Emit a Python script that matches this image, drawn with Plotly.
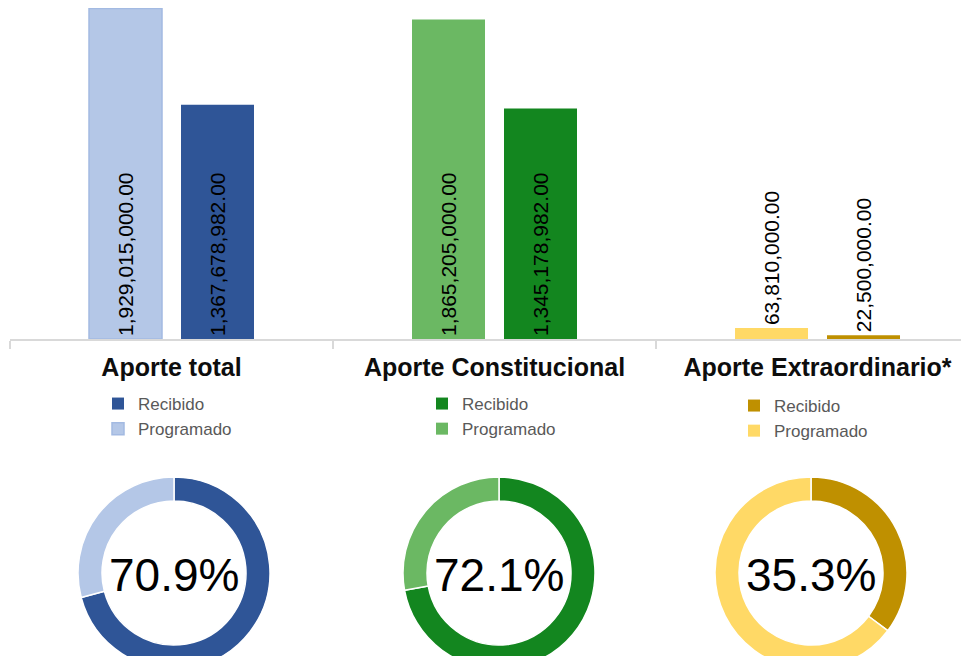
import plotly.graph_objects as go

# ---- data ----
categories = ["Aporte total", "Aporte Constitucional", "Aporte Extraordinario*"]
programado = [1929015000.00, 1865205000.00, 63810000.00]
recibido = [1367678982.00, 1345178982.00, 22500000.00]
series_names = ["Recibido", "Programado"]

# ---- styles ----
prog_colors = ["#B4C7E7", "#6BB863", "#FFD966"]
rec_colors = ["#2F5597", "#13861F", "#BF9000"]
prog_lines = ["#A3BAE2", "#6BB863", "#FFD966"]
FONT = "Liberation Sans, Arial, sans-serif"
W, H = 961, 680          # page body adds an 8px offset
AXIS_Y = 331             # px from figure top

fig = go.Figure()
legend_ids = ["legend", "legend2", "legend3"]

for i, cat in enumerate(categories):
    for name, vals, colors, off in (
        (series_names[1], programado, prog_colors, -0.2554),
        (series_names[0], recibido, rec_colors, 0.0294),
    ):
        fig.add_trace(go.Bar(
            x=[cat], y=[vals[i]], name=name,
            offset=off, width=0.226,
            marker=dict(color=colors[i],
                        line=dict(color=prog_lines[i] if name == "Programado" else colors[i],
                                  width=1.5 if (name == "Programado" and i == 0) else 0)),
            text=[f"{vals[i]:,.2f}"], textposition="auto", textangle=-90,
            insidetextanchor="start", constraintext="none",
            textfont=dict(size=21, color="#000000", family=FONT),
            cliponaxis=False,
            legend=legend_ids[i], showlegend=True,
            hoverinfo="x+y+name",
        ))

# ---- donuts ----
R = 96
CY = 565
centers = [166, 491, 803]
for i, cat in enumerate(categories):
    cx = centers[i]
    fig.add_trace(go.Pie(
        values=[recibido[i], programado[i] - recibido[i]],
        labels=[series_names[0], series_names[1]],
        marker=dict(colors=[rec_colors[i], prog_colors[i]], line=dict(color="white", width=1.5)),
        hole=0.75, sort=False, direction="clockwise", rotation=0,
        textinfo="none", showlegend=False,
        domain=dict(x=[(cx - R) / W, (cx + R) / W], y=[(H - CY - R) / H, (H - CY + R) / H]),
    ))
    fig.add_annotation(
        x=cx / W, y=(H - CY - 2) / H, xref="paper", yref="paper",
        text=f"{recibido[i] / programado[i] * 100:.1f}%",
        showarrow=False, xanchor="center", yanchor="middle",
        font=dict(size=46, color="#000000", family=FONT),
    )

legend_common = dict(
    xanchor="left", yanchor="top", traceorder="reversed",
    font=dict(size=17, color="#595959", family=FONT),
    bgcolor="rgba(0,0,0,0)",
)
fig.update_layout(
    width=W, height=H,
    margin=dict(l=0, r=0, t=0, b=0),
    paper_bgcolor="white", plot_bgcolor="white",
    barmode="overlay",
    font=dict(family=FONT),
    xaxis=dict(
        type="category", domain=[2 / W, 1], range=[-0.5, 2.469],
        showline=True, linecolor="#D9D9D9", linewidth=2,
        ticks="outside", tickson="boundaries", ticklen=8,
        tickcolor="#D9D9D9", tickwidth=2, showgrid=False,
        tickfont=dict(size=25, color="#0D0D0D", family=FONT, weight="bold"),
        ticklabelstandoff=5,
    ),
    yaxis=dict(visible=False, range=[0, 1.932e9], domain=[1 - AXIS_Y / H, 1]),
    legend=dict(x=90 / W, y=1 - 378 / H, **legend_common),
    legend2=dict(x=414 / W, y=1 - 378 / H, **legend_common),
    legend3=dict(x=726 / W, y=1 - 380 / H, **legend_common),
)

fig.write_html("out.html")
